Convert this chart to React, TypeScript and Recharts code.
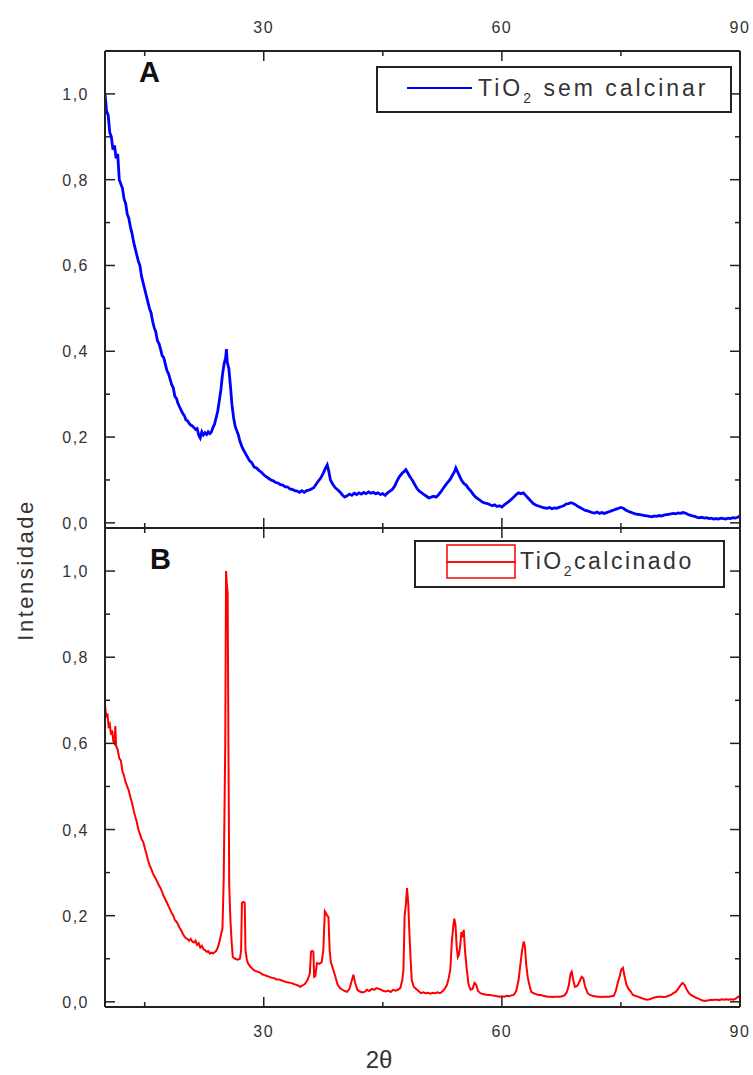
import React from "react";
import { LineChart, Line, XAxis, YAxis } from "recharts";

// 2θ / intensity (TiO2 sem calcinar)
const anglesA = [
  10.0, 10.2, 10.4, 10.6, 10.8, 11.0, 11.2, 11.4, 11.6, 11.8,
  12.0, 12.2, 12.4, 12.6, 12.8, 13.0, 13.2, 13.4, 13.6, 13.8,
  14.0, 14.2, 14.4, 14.6, 14.8, 15.0, 15.2, 15.4, 15.6, 15.8,
  16.0, 16.2, 16.4, 16.6, 16.8, 17.0, 17.2, 17.4, 17.6, 17.8,
  18.0, 18.2, 18.4, 18.6, 18.8, 19.0, 19.2, 19.4, 19.6, 19.8,
  20.0, 20.2, 20.4, 20.6, 20.8, 21.0, 21.2, 21.4, 21.6, 21.8,
  22.0, 22.2, 22.4, 22.6, 22.8, 23.0, 23.2, 23.4, 23.6, 23.8,
  24.0, 24.2, 24.4, 24.6, 24.8, 25.0, 25.2, 25.3, 25.4, 25.6,
  25.8, 26.0, 26.2, 26.4, 26.6, 26.8, 27.0, 27.3, 27.6, 27.9,
  28.2, 28.5, 28.8, 29.1, 29.4, 29.7, 30.0, 30.3, 30.6, 30.9,
  31.2, 31.5, 31.8, 32.1, 32.4, 32.7, 33.0, 33.3, 33.6, 33.9,
  34.2, 34.5, 34.8, 35.1, 35.4, 35.7, 36.0, 36.3, 36.6, 36.9,
  37.2, 37.5, 37.8, 38.0, 38.2, 38.4, 38.7, 39.0, 39.3, 39.6,
  39.9, 40.2, 40.5, 40.8, 41.1, 41.4, 41.7, 42.0, 42.3, 42.6,
  42.9, 43.2, 43.5, 43.8, 44.1, 44.4, 44.7, 45.0, 45.3, 45.6,
  45.9, 46.2, 46.5, 46.8, 47.1, 47.4, 47.7, 47.9, 48.1, 48.4,
  48.7, 49.0, 49.3, 49.6, 49.9, 50.2, 50.5, 50.8, 51.1, 51.4,
  51.7, 52.0, 52.3, 52.6, 52.9, 53.2, 53.5, 53.8, 54.0, 54.2,
  54.4, 54.6, 54.9, 55.2, 55.5, 55.8, 56.1, 56.4, 56.7, 57.0,
  57.3, 57.6, 57.9, 58.2, 58.5, 58.8, 59.1, 59.4, 59.7, 60.0,
  60.3, 60.6, 60.9, 61.2, 61.5, 61.8, 62.1, 62.4, 62.7, 63.0,
  63.3, 63.6, 63.9, 64.2, 64.5, 64.8, 65.1, 65.4, 65.7, 66.0,
  66.3, 66.6, 66.9, 67.2, 67.5, 67.8, 68.1, 68.4, 68.7, 69.0,
  69.3, 69.6, 69.9, 70.2, 70.5, 70.8, 71.1, 71.4, 71.7, 72.0,
  72.3, 72.6, 72.9, 73.2, 73.5, 73.8, 74.1, 74.4, 74.7, 75.0,
  75.3, 75.6, 75.9, 76.2, 76.5, 76.8, 77.1, 77.4, 77.7, 78.0,
  78.3, 78.6, 78.9, 79.2, 79.5, 79.8, 80.1, 80.4, 80.7, 81.0,
  81.3, 81.6, 81.9, 82.2, 82.5, 82.8, 83.1, 83.4, 83.7, 84.0,
  84.3, 84.6, 84.9, 85.2, 85.5, 85.8, 86.1, 86.4, 86.7, 87.0,
  87.3, 87.6, 87.9, 88.2, 88.5, 88.8, 89.1, 89.4, 89.7, 90.0,
];
const intensityA = [
  1.0, 0.96, 0.95, 0.91, 0.9, 0.87, 0.88, 0.85, 0.86, 0.8,
  0.79, 0.78, 0.755, 0.745, 0.72, 0.71, 0.69, 0.675, 0.655, 0.64,
  0.625, 0.61, 0.6, 0.575, 0.56, 0.545, 0.53, 0.515, 0.5, 0.49,
  0.47, 0.455, 0.445, 0.425, 0.418, 0.405, 0.39, 0.385, 0.37, 0.355,
  0.348, 0.335, 0.322, 0.315, 0.295, 0.29, 0.278, 0.27, 0.262, 0.255,
  0.25, 0.24, 0.238, 0.232, 0.228, 0.226, 0.222, 0.218, 0.22, 0.205,
  0.198, 0.212, 0.205, 0.21, 0.206, 0.212, 0.208, 0.212, 0.222, 0.23,
  0.245, 0.26, 0.285, 0.31, 0.345, 0.37, 0.385, 0.405, 0.375, 0.36,
  0.32, 0.275, 0.245, 0.225, 0.215, 0.205, 0.19, 0.175, 0.165, 0.155,
  0.145, 0.14, 0.13, 0.128, 0.122, 0.118, 0.112, 0.108, 0.104, 0.1,
  0.098, 0.094, 0.093, 0.089, 0.088, 0.084, 0.084, 0.079, 0.078, 0.075,
  0.074, 0.071, 0.075, 0.071, 0.075, 0.076, 0.079, 0.082, 0.09, 0.098,
  0.105, 0.116, 0.128, 0.135, 0.12, 0.1, 0.09, 0.082, 0.077, 0.072,
  0.065, 0.06, 0.063, 0.067, 0.064, 0.069, 0.066, 0.07, 0.067, 0.071,
  0.068, 0.072, 0.069, 0.071, 0.068, 0.07, 0.066, 0.068, 0.064, 0.07,
  0.074, 0.078, 0.086, 0.098, 0.108, 0.115, 0.12, 0.124, 0.118, 0.108,
  0.1, 0.09, 0.08, 0.074, 0.07, 0.066, 0.062, 0.058, 0.06, 0.062,
  0.06, 0.065, 0.072, 0.08, 0.088, 0.095, 0.102, 0.112, 0.118, 0.128,
  0.12, 0.112, 0.1, 0.092, 0.088, 0.08, 0.074, 0.066, 0.06, 0.056,
  0.052, 0.048, 0.046, 0.045, 0.042, 0.04, 0.042, 0.038, 0.04, 0.037,
  0.042, 0.046, 0.05, 0.055, 0.06, 0.066, 0.07, 0.068, 0.07, 0.064,
  0.058, 0.052, 0.046, 0.042, 0.04, 0.038, 0.036, 0.035, 0.034, 0.036,
  0.033, 0.035, 0.034, 0.036, 0.038, 0.04, 0.044, 0.045, 0.047, 0.045,
  0.042, 0.038, 0.035, 0.032, 0.029, 0.028, 0.026, 0.024, 0.023, 0.025,
  0.022, 0.024, 0.022, 0.024, 0.026, 0.028, 0.03, 0.032, 0.034, 0.036,
  0.034, 0.03, 0.027, 0.025, 0.023, 0.021, 0.02, 0.019, 0.018, 0.017,
  0.016, 0.015, 0.014, 0.016, 0.015, 0.017, 0.016, 0.018, 0.019, 0.02,
  0.021, 0.022, 0.021, 0.023, 0.022, 0.024, 0.023, 0.02, 0.018, 0.016,
  0.015, 0.013, 0.012, 0.013, 0.011, 0.012, 0.01, 0.011, 0.009, 0.01,
  0.009, 0.011, 0.01, 0.009, 0.011, 0.01, 0.012, 0.011, 0.013, 0.016,
];

// 2θ / intensity (TiO2 calcinado)
const anglesB = [
  10.0, 10.15, 10.3, 10.45, 10.6, 10.75, 10.9, 11.05, 11.2, 11.3,
  11.4, 11.6, 11.8, 12.0, 12.2, 12.4, 12.6, 12.8, 13.0, 13.2,
  13.4, 13.6, 13.8, 14.0, 14.2, 14.4, 14.6, 14.8, 15.0, 15.2,
  15.4, 15.6, 15.8, 16.0, 16.2, 16.4, 16.6, 16.8, 17.0, 17.2,
  17.4, 17.6, 17.8, 18.0, 18.2, 18.4, 18.6, 18.8, 19.0, 19.2,
  19.4, 19.6, 19.8, 20.0, 20.2, 20.4, 20.6, 20.8, 21.0, 21.2,
  21.4, 21.6, 21.8, 22.0, 22.2, 22.4, 22.6, 22.8, 23.0, 23.2,
  23.4, 23.6, 23.8, 24.0, 24.2, 24.4, 24.6, 24.8, 24.95, 25.05,
  25.15, 25.25, 25.35, 25.45, 25.55, 25.65, 25.8, 25.95, 26.1, 26.4,
  26.7, 27.0, 27.15, 27.25, 27.45, 27.6, 27.7, 27.85, 28.0, 28.3,
  28.6, 28.9, 29.2, 29.5, 29.8, 30.1, 30.4, 30.7, 31.0, 31.3,
  31.6, 31.9, 32.2, 32.5, 32.8, 33.1, 33.4, 33.7, 34.0, 34.3,
  34.6, 34.9, 35.2, 35.5, 35.8, 35.95, 36.1, 36.25, 36.35, 36.5,
  36.7, 37.0, 37.3, 37.5, 37.7, 37.85, 38.0, 38.15, 38.3, 38.45,
  38.7, 39.0, 39.3, 39.6, 39.9, 40.2, 40.5, 40.8, 41.1, 41.3,
  41.5, 41.8, 42.1, 42.4, 42.7, 43.0, 43.3, 43.6, 43.9, 44.2,
  44.5, 44.8, 45.1, 45.4, 45.7, 46.0, 46.3, 46.6, 46.9, 47.2,
  47.45, 47.6, 47.75, 47.9, 48.05, 48.2, 48.35, 48.5, 48.65, 48.9,
  49.2, 49.5, 49.8, 50.1, 50.4, 50.7, 51.0, 51.3, 51.6, 51.9,
  52.2, 52.5, 52.8, 53.1, 53.3, 53.5, 53.7, 53.85, 54.0, 54.15,
  54.3, 54.45, 54.6, 54.75, 54.9, 55.05, 55.2, 55.35, 55.55, 55.8,
  56.05, 56.3, 56.55, 56.75, 57.0, 57.3, 57.6, 57.9, 58.2, 58.5,
  58.8, 59.1, 59.4, 59.7, 60.0, 60.3, 60.6, 60.9, 61.2, 61.5,
  61.8, 62.1, 62.35, 62.55, 62.75, 62.9, 63.05, 63.25, 63.45, 63.7,
  64.0, 64.3, 64.6, 64.9, 65.2, 65.5, 65.8, 66.1, 66.4, 66.7,
  67.0, 67.3, 67.6, 67.9, 68.2, 68.45, 68.65, 68.8, 69.0, 69.2,
  69.4, 69.6, 69.85, 70.05, 70.25, 70.5, 70.8, 71.1, 71.4, 71.7,
  72.0, 72.3, 72.6, 72.9, 73.2, 73.5, 73.8, 74.1, 74.35, 74.6,
  74.85, 75.05, 75.25, 75.45, 75.7, 75.95, 76.2, 76.5, 76.8, 77.1,
  77.4, 77.7, 78.0, 78.3, 78.6, 78.9, 79.2, 79.5, 79.8, 80.1,
  80.4, 80.7, 81.0, 81.3, 81.6, 81.9, 82.2, 82.5, 82.75, 83.0,
  83.25, 83.5, 83.8, 84.1, 84.4, 84.7, 85.0, 85.3, 85.6, 85.9,
  86.2, 86.5, 86.8, 87.1, 87.4, 87.7, 88.0, 88.3, 88.6, 88.9,
  89.2, 89.5, 89.8, 90.0,
];
const intensityB = [
  0.69, 0.66, 0.67, 0.64, 0.645, 0.62, 0.63, 0.605, 0.6, 0.64,
  0.595, 0.585, 0.565, 0.56, 0.535, 0.525, 0.51, 0.5, 0.49, 0.475,
  0.462, 0.445, 0.43, 0.418, 0.4, 0.39, 0.378, 0.372, 0.358, 0.345,
  0.33, 0.318, 0.31, 0.3, 0.292, 0.286, 0.278, 0.27, 0.264, 0.255,
  0.245, 0.238, 0.23, 0.222, 0.214, 0.206, 0.2, 0.19, 0.186, 0.18,
  0.172, 0.166, 0.158, 0.152, 0.148, 0.146, 0.142, 0.146, 0.14, 0.138,
  0.142, 0.132, 0.136, 0.126, 0.13, 0.122, 0.12, 0.116, 0.118, 0.112,
  0.114, 0.112, 0.115, 0.118, 0.126, 0.138, 0.155, 0.17, 0.28, 0.434,
  0.6, 1.0, 0.97, 0.95, 0.6, 0.27, 0.19, 0.14, 0.104, 0.1,
  0.098, 0.1, 0.12, 0.23, 0.232, 0.23, 0.12, 0.1, 0.09, 0.082,
  0.076, 0.072, 0.07, 0.068, 0.064, 0.062, 0.06, 0.058, 0.056, 0.055,
  0.052, 0.052, 0.05, 0.048, 0.046, 0.045, 0.044, 0.042, 0.04, 0.038,
  0.035, 0.038, 0.042, 0.05, 0.065, 0.116, 0.118, 0.116, 0.058, 0.06,
  0.09, 0.088, 0.092, 0.12, 0.21, 0.205, 0.2, 0.197, 0.12, 0.093,
  0.078, 0.06, 0.04, 0.032, 0.028, 0.025, 0.023, 0.03, 0.05, 0.063,
  0.045, 0.028, 0.024, 0.022, 0.023, 0.028, 0.025, 0.03, 0.028, 0.032,
  0.03, 0.028, 0.025, 0.024, 0.026, 0.023, 0.028, 0.026, 0.028, 0.032,
  0.05, 0.074, 0.2, 0.225, 0.264, 0.23, 0.16, 0.1, 0.05, 0.035,
  0.03, 0.025, 0.02, 0.022, 0.02, 0.021, 0.019, 0.021, 0.02, 0.022,
  0.02, 0.024, 0.03, 0.04, 0.055, 0.074, 0.14, 0.17, 0.193, 0.18,
  0.13, 0.104, 0.11, 0.13, 0.162, 0.155, 0.167, 0.12, 0.08, 0.04,
  0.028, 0.03, 0.044, 0.04, 0.025, 0.02, 0.018, 0.017, 0.016, 0.016,
  0.015, 0.014, 0.013, 0.012, 0.013, 0.012, 0.014, 0.013, 0.015, 0.016,
  0.025, 0.05, 0.09, 0.12, 0.14, 0.13, 0.09, 0.058, 0.04, 0.023,
  0.02, 0.018, 0.016, 0.016, 0.014, 0.013, 0.012, 0.012, 0.011, 0.012,
  0.012, 0.012, 0.013, 0.015, 0.023, 0.04, 0.065, 0.07, 0.05, 0.035,
  0.036, 0.04, 0.05, 0.058, 0.055, 0.035, 0.02, 0.016, 0.014, 0.013,
  0.012, 0.012, 0.011, 0.012, 0.012, 0.012, 0.013, 0.014, 0.025, 0.044,
  0.06, 0.075, 0.079, 0.06, 0.04, 0.03, 0.025, 0.016, 0.014, 0.012,
  0.01, 0.008, 0.006, 0.005, 0.006, 0.008, 0.01, 0.011, 0.012, 0.012,
  0.011, 0.012, 0.014, 0.016, 0.02, 0.023, 0.03, 0.038, 0.044, 0.04,
  0.03, 0.022, 0.016, 0.013, 0.01, 0.008, 0.005, 0.003, 0.002, 0.003,
  0.004, 0.004, 0.005, 0.005, 0.004, 0.006, 0.005, 0.006, 0.005, 0.006,
  0.005, 0.008, 0.012, 0.014,
];

const xTicks = [15, 30, 45, 60, 75, 90];
const yTicks = [0, 0.1, 0.2, 0.3, 0.4, 0.5, 0.6, 0.7, 0.8, 0.9, 1.0];
const xDomain = [10, 90];
const yDomain = [-0.012, 1.1];

const FONT = "'Liberation Sans', Arial, sans-serif";
const INK = "#222";
const LABEL = "#333";

const dataA = anglesA.map((x, i) => ({ x, y: intensityA[i] }));
const dataB = anglesB.map((x, i) => ({ x, y: intensityB[i] }));

// inward tick marks (Origin style), labels only where asked
function AxisTick(props: any) {
  const { x, y, payload, side, labels } = props;
  const v = payload.value;
  const vertical = side === "left" || side === "right";
  const major = vertical ? Math.round(v * 10) % 2 === 0 : v % 30 === 0;
  const len = major ? 10 : 5;
  let line;
  let text = null;
  if (side === "left") {
    line = <line x1={x} y1={y} x2={x + len} y2={y} stroke={INK} strokeWidth={1.5} />;
    if (labels && major)
      text = (
        <text x={x - 16} y={y + 6} textAnchor="end" fontSize={16} letterSpacing={1.5} fill={LABEL} fontFamily={FONT}>
          {v.toFixed(1).replace(".", ",")}
        </text>
      );
  } else if (side === "right") {
    line = <line x1={x} y1={y} x2={x - len} y2={y} stroke={INK} strokeWidth={1.5} />;
  } else if (side === "top") {
    line = <line x1={x} y1={y} x2={x} y2={y + len} stroke={INK} strokeWidth={1.5} />;
    if (labels && major)
      text = (
        <text x={x} y={y - 18} textAnchor="middle" fontSize={16} letterSpacing={1.5} fill={LABEL} fontFamily={FONT}>
          {v}
        </text>
      );
  } else {
    line = <line x1={x} y1={y} x2={x} y2={y - len} stroke={INK} strokeWidth={1.5} />;
    if (labels && major)
      text = (
        <text x={x} y={y + 30} textAnchor="middle" fontSize={16} letterSpacing={1.5} fill={LABEL} fontFamily={FONT}>
          {v}
        </text>
      );
  }
  return (
    <g>
      {line}
      {text}
    </g>
  );
}

function Panel({ data, color, width, topLabels, bottomLabels, height, margin, bottomHeight }: any) {
  const axisLine = { stroke: INK, strokeWidth: 2 };
  return (
    <LineChart width={753} height={height} data={data} margin={margin}>
      <XAxis
        xAxisId="t"
        orientation="top"
        type="number"
        dataKey="x"
        domain={xDomain}
        allowDataOverflow
        ticks={xTicks}
        interval={0}
        height={30}
        tickSize={0}
        tickMargin={0}
        axisLine={axisLine}
        tick={(p: any) => <AxisTick {...p} side="top" labels={topLabels} />}
      />
      <XAxis
        xAxisId="b"
        orientation="bottom"
        type="number"
        dataKey="x"
        domain={xDomain}
        allowDataOverflow
        ticks={xTicks}
        interval={0}
        height={bottomHeight}
        tickSize={0}
        tickMargin={0}
        axisLine={axisLine}
        tick={(p: any) => <AxisTick {...p} side="bottom" labels={bottomLabels} />}
      />
      <YAxis
        yAxisId="l"
        type="number"
        domain={yDomain}
        allowDataOverflow
        ticks={yTicks}
        interval={0}
        width={60}
        tickSize={0}
        tickMargin={0}
        axisLine={axisLine}
        tick={(p: any) => <AxisTick {...p} side="left" labels />}
      />
      <YAxis
        yAxisId="r"
        orientation="right"
        type="number"
        domain={yDomain}
        allowDataOverflow
        ticks={yTicks}
        interval={0}
        width={10}
        tickSize={0}
        tickMargin={0}
        axisLine={axisLine}
        tick={(p: any) => <AxisTick {...p} side="right" />}
      />
      <Line
        xAxisId="b"
        yAxisId="l"
        type="linear"
        dataKey="y"
        stroke={color}
        strokeWidth={width}
        dot={false}
        isAnimationActive={false}
      />
    </LineChart>
  );
}

export default function App() {
  return (
    <div style={{ position: "absolute", left: 0, top: 0, width: 753, height: 1075, background: "#fff", fontFamily: FONT }}>
      <div style={{ position: "absolute", left: 0, top: 0 }}>
        <Panel
          data={dataA}
          color="#0000ff"
          width={2.8}
          topLabels
          bottomLabels={false}
          height={560}
          bottomHeight={30}
          margin={{ top: 21, right: 3, bottom: 2, left: 45 }}
        />
      </div>
      <div style={{ position: "absolute", left: 0, top: 480 }}>
        <Panel
          data={dataB}
          color="#ff0000"
          width={2}
          topLabels={false}
          bottomLabels
          height={595}
          bottomHeight={50}
          margin={{ top: 18, right: 3, bottom: 18, left: 45 }}
        />
      </div>
      <svg
        width={753}
        height={1075}
        style={{ position: "absolute", left: 0, top: 0, pointerEvents: "none" }}
        fontFamily={FONT}
      >
        <text x={139} y={82} fontSize={29} fontWeight="bold" fill="#111">A</text>
        <text x={150} y={569} fontSize={29} fontWeight="bold" fill="#111">B</text>

        <rect x={377} y={67} width={354} height={45} fill="#fff" stroke={INK} strokeWidth={2} />
        <line x1={407} y1={88} x2={472} y2={88} stroke="#0000ff" strokeWidth={2} />
        <text x={478} y={96} fontSize={23} letterSpacing={3} fill={LABEL}>
          TiO<tspan dy={7} fontSize={14}>2</tspan>
          <tspan dy={-7}> sem calcinar</tspan>
        </text>

        <rect x={415} y={541} width={309} height={46} fill="#fff" stroke={INK} strokeWidth={2} />
        <rect x={447} y={545} width={68} height={17} fill="none" stroke="#ff0000" strokeWidth={1.5} />
        <rect x={447} y={562} width={68} height={16} fill="none" stroke="#ff0000" strokeWidth={1.5} />
        <text x={520} y={569} fontSize={23} letterSpacing={2.5} fill={LABEL}>
          TiO<tspan dy={7} fontSize={14}>2</tspan>
          <tspan dy={-7}>calcinado</tspan>
        </text>

        <text
          transform="translate(33, 570) rotate(-90)"
          textAnchor="middle"
          fontSize={22}
          letterSpacing={2.5}
          fill={LABEL}
        >
          Intensidade
        </text>
        <text x={379} y={1068} textAnchor="middle" fontSize={24} fill={LABEL}>
          2θ
        </text>
      </svg>
    </div>
  );
}
